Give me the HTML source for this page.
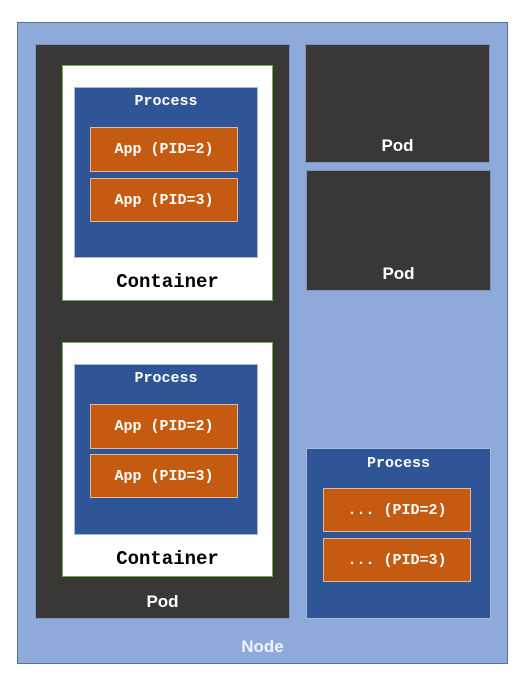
<!DOCTYPE html><html><head><style>
body{margin:0;width:530px;height:687px;background:#fff;position:relative;overflow:hidden}
div{position:absolute;box-sizing:border-box}
.t{font-family:"Liberation Mono",monospace;font-weight:bold;color:#fff;text-align:center;width:100%;left:0}
.s{font-family:"Liberation Sans",sans-serif;font-weight:bold;color:#fff;text-align:center;width:100%;left:0}
.proc{background:#2f5597;border:1px solid #a9b9d9}
.app{background:#c55a11;border:1px solid #e0b8a0;font-family:"Liberation Mono",monospace;font-weight:bold;color:#fff;font-size:15px;display:flex;align-items:center;justify-content:center}
.cont{background:#fff;border:1px solid #70ad47}
.pod{background:#3a3836;border:1px solid #7f93bd}
</style></head><body>
<div style="left:17px;top:22px;width:491px;height:642px;background:#8eaadb;border:1px solid #5a6e99"></div>
<div class="pod" style="left:35px;top:44px;width:255px;height:575px"></div>
<div class="cont" style="left:62px;top:65px;width:211px;height:236px"></div>
<div class="proc" style="left:74px;top:87px;width:184px;height:171px"></div>
<div class="t" style="top:93px;left:74px;width:184px;font-size:15px">Process</div>
<div class="app" style="left:90px;top:127px;width:148px;height:45px">App (PID=2)</div>
<div class="app" style="left:90px;top:178px;width:148px;height:44px">App (PID=3)</div>
<div class="t" style="top:271px;left:62px;width:211px;font-size:19px;color:#000">Container</div>
<div class="cont" style="left:62px;top:342px;width:211px;height:235px"></div>
<div class="proc" style="left:74px;top:364px;width:184px;height:171px"></div>
<div class="t" style="top:370px;left:74px;width:184px;font-size:15px">Process</div>
<div class="app" style="left:90px;top:404px;width:148px;height:45px">App (PID=2)</div>
<div class="app" style="left:90px;top:454px;width:148px;height:44px">App (PID=3)</div>
<div class="t" style="top:548px;left:62px;width:211px;font-size:19px;color:#000">Container</div>
<div class="s" style="top:592px;left:35px;width:255px;font-size:17px">Pod</div>
<div class="pod" style="left:305px;top:44px;width:185px;height:119px"></div>
<div class="s" style="top:136px;left:305px;width:185px;font-size:17px">Pod</div>
<div class="pod" style="left:306px;top:170px;width:185px;height:121px"></div>
<div class="s" style="top:264px;left:306px;width:185px;font-size:17px">Pod</div>
<div class="proc" style="left:306px;top:448px;width:185px;height:171px"></div>
<div class="t" style="top:455px;left:306px;width:185px;font-size:15px">Process</div>
<div class="app" style="left:323px;top:488px;width:148px;height:44px">... (PID=2)</div>
<div class="app" style="left:323px;top:538px;width:148px;height:44px">... (PID=3)</div>
<div class="s" style="top:637px;left:17px;width:491px;font-size:17px;color:#f0f4fb">Node</div>
</body></html>
